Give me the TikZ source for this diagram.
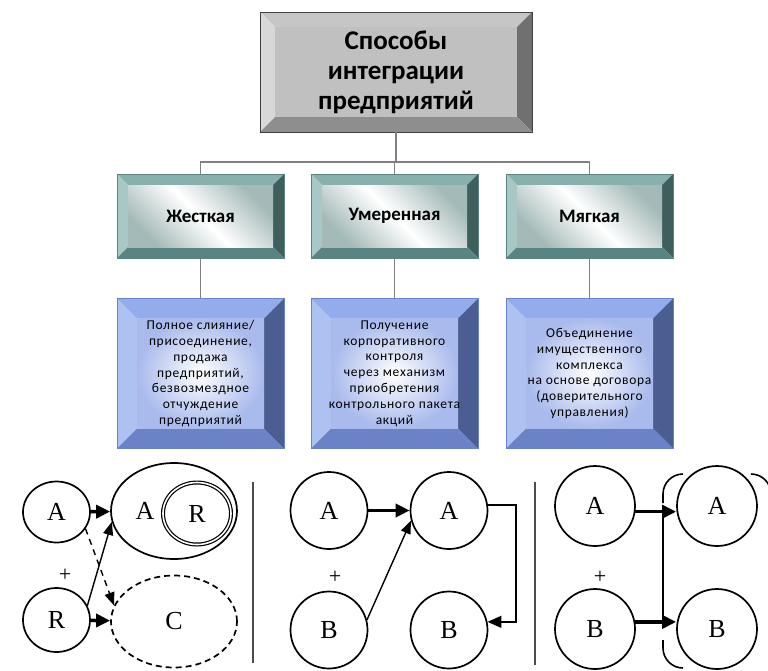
\documentclass[tikz,border=0pt]{standalone}
\usepackage{fontspec}
\setmainfont{Carlito}
\newfontfamily\panelfont{Liberation Serif}
\newfontfamily\spacedfont[LetterSpace=5]{Carlito}
\usetikzlibrary{shapes.geometric,arrows.meta,calc}

\definecolor{tealT}{HTML}{88B0AD}
\definecolor{tealL}{HTML}{A8C8C5}
\definecolor{tealR}{HTML}{3F5F5D}
\definecolor{tealB}{HTML}{5A8481}
\definecolor{tealFace}{HTML}{A4BAB8}
\definecolor{blueT}{HTML}{93ACEB}
\definecolor{blueL}{HTML}{AEC2F2}
\definecolor{blueR}{HTML}{4A5E92}
\definecolor{blueB}{HTML}{6A82C6}
\definecolor{blueFace}{HTML}{A9BAEC}
\definecolor{grayT}{HTML}{C6C6C6}
\definecolor{grayL}{HTML}{D8D8D8}
\definecolor{grayR}{HTML}{707070}
\definecolor{grayB}{HTML}{8E8E8E}
\definecolor{grayFace}{HTML}{C0C0C0}
\definecolor{conn}{HTML}{808080}

\newcommand\bevelpic[6]{%
 \path (path picture bounding box.north west) coordinate (bNW)
       (path picture bounding box.north east) coordinate (bNE)
       (path picture bounding box.south east) coordinate (bSE)
       (path picture bounding box.south west) coordinate (bSW);
 \path ($(bNW)+(#1,-#1)$) coordinate (iNW)
       ($(bNE)+(-#1,-#1)$) coordinate (iNE)
       ($(bSE)+(-#1,#1)$) coordinate (iSE)
       ($(bSW)+(#1,#1)$) coordinate (iSW);
 \fill[#2] (bNW) -- (bNE) -- (iNE) -- (iNW) -- cycle;
 \fill[#3] (bNW) -- (iNW) -- (iSW) -- (bSW) -- cycle;
 \fill[#4] (bNE) -- (bSE) -- (iSE) -- (iNE) -- cycle;
 \fill[#5] (bSW) -- (iSW) -- (iSE) -- (bSE) -- cycle;
 \path[#6] (iNW) rectangle (iSE);
}

\tikzset{
 titlebox/.style={minimum width=272pt, minimum height=120pt, inner sep=0pt,
   draw=black!75, line width=0.7pt, align=center,
   font=\bfseries\fontsize{27}{30}\selectfont,
   path picture={\bevelpic{15pt}{grayT}{grayL}{grayR}{grayB}{fill=grayFace}}},
 tealbox/.style={minimum width=167pt, minimum height=84pt, inner sep=0pt,
   draw=tealB, line width=0.5pt, align=center,
   font=\bfseries\fontsize{19}{22}\selectfont,
   path picture={\bevelpic{11pt}{tealT}{tealL}{tealR}{tealB}{top color=tealFace,bottom color=tealFace,middle color=white,shading angle=-45}}},
 bluebox/.style={minimum width=167pt, minimum height=150pt, inner sep=0pt,
   draw=blueB, line width=0.5pt, align=center,
   font=\spacedfont\fontsize{13.5}{15.8}\selectfont,
   path picture={\bevelpic{20pt}{blueT}{blueL}{blueR}{blueB}{inner color=white,outer color=blueFace}}},
 conline/.style={draw=conn, line width=1.1pt},
 oval/.style={ellipse, draw=black, line width=1.7pt, inner sep=0pt,
   font=\panelfont\fontsize{26}{28}\selectfont},
 circ/.style={circle, draw=black, line width=1.7pt, inner sep=0pt, minimum size=80pt,
   font=\panelfont\fontsize{26}{28}\selectfont},
 lbl/.style={font=\panelfont\fontsize{26}{28}\selectfont, inner sep=0pt},
 plus/.style={font=\panelfont\fontsize{22}{24}\selectfont, inner sep=0pt},
 thickarrow/.style={line width=3.5pt, -{Triangle[length=14pt,width=13pt]}},
 thinarrow/.style={line width=1.4pt, -{Triangle[length=13pt,width=10pt]}},
 sepline/.style={draw=black!70, line width=2pt},
}

\begin{document}
\begin{tikzpicture}[x=1pt,y=-1pt]
\useasboundingbox[fill=white] (0,0) rectangle (768,670);

% top level
\node[titlebox] (title) at (396,72) {Способы\\интеграции\\предприятий};

% second row
\node[tealbox] (hard) at (200.5,216) {Жесткая};
\node[tealbox] (mod)  at (394.5,216) {Умеренная};
\node[tealbox] (soft) at (589.5,216) {Мягкая};

% third row
\node[bluebox] (hardD) at (200.5,373.5) {Полное слияние/\\присоединение,\\продажа\\предприятий,\\безвозмездное\\отчуждение\\предприятий};
\node[bluebox] (modD) at (394.5,373.5) {Получение\\корпоративного\\контроля\\через механизм\\приобретения\\контрольного пакета\\акций};
\node[bluebox] (softD) at (589.5,373.5) {Объединение\\имущественного\\комплекса\\на основе договора\\(доверительного\\управления)};

% connectors
\coordinate (bus) at (396,162);
\draw[conline] (title.south) -- (bus);
\draw[conline] (hard.north) |- (bus);
\draw[conline] (soft.north) |- (bus);
\draw[conline] (mod.north) |- (bus);
\draw[conline] (hard.south) -- (hardD.north);
\draw[conline] (mod.south) -- (modD.north);
\draw[conline] (soft.south) -- (softD.north);

% ---------- left panel ----------
\node[oval, minimum width=67pt, minimum height=61pt] (lA) at (56.5,512) {A};
\node[oval, minimum width=67pt, minimum height=64pt] (lB) at (56.5,620) {R};
\node[plus] (lplus) at (65,575) {+};
\node[oval, minimum width=126pt, minimum height=96pt] (big) at (174,511) {};
\node[lbl] (bigA) at (145,511) {A};
\node[oval, minimum width=68pt, minimum height=62pt, double, line width=1.2pt, double distance=1.6pt] (inR) at (197,513.5) {R};
\node[oval, dashed, dash pattern=on 6pt off 4pt, minimum width=126pt, minimum height=92pt] (lC) at (174,621.5) {C};
\draw[thickarrow] (lA) -- (big);
\draw[thickarrow] (lB) -- (lC);
\draw[thinarrow] (lB.25) -- (big.190);
\draw[thinarrow, dashed, dash pattern=on 6pt off 5pt] (lA.-30) -- (lC.165);
\coordinate (sepLtop) at (253,482);
\coordinate (sepLbot) at (253,663);
\draw[sepline] (sepLtop) -- (sepLbot);

% ---------- middle panel ----------
\node[circ, minimum size=77pt] (mA) at (329,510.5) {A};
\node[circ, minimum size=77pt] (mA2) at (449,510.5) {A};
\node[plus] (mplus) at (335,577) {+};
\node[circ, minimum size=77pt] (mB) at (329,630) {B};
\node[circ, minimum size=77pt] (mB2) at (449,630) {B};
\draw[thickarrow] (mA) -- (mA2);
\draw[thinarrow] (mB.15) -- (mA2.195);
\coordinate (mloop) at (516,505);
\draw[line width=1.6pt, -{Triangle[length=14pt,width=12pt]}] (mA2.8) -- (mA2.8 -| mloop) |- (mB2.12);

\coordinate (sepRtop) at (535,482);
\coordinate (sepRbot) at (535,665);
\draw[sepline] (sepRtop) -- (sepRbot);

% ---------- right panel ----------
\node[circ] (rA) at (595,506) {A};
\node[circ] (rA2) at (717,506) {A};
\node[plus] (rplus) at (600,577) {+};
\node[circ] (rB) at (595,629) {B};
\node[circ] (rB2) at (717,629) {B};
\coordinate (vx) at (663,0);
\draw[thickarrow] (rA.-8) -- (rA.-8 -| rA2.west);
\draw[thickarrow] (rB.10) -- (rB.10 -| rB2.west);
\draw[line width=1.6pt] (rA.-8 -| vx) -- (rB.10 -| vx);
% enclosing brackets
\draw[line width=1.6pt] (683,474) arc[start angle=90, end angle=180, radius=20pt] -- (663,503);
\draw[line width=1.6pt] (751,474) arc[start angle=90, end angle=0, radius=20pt];
\draw[line width=1.6pt] (663,640) -- (663,648) arc[start angle=180, end angle=270, radius=20pt];
\end{tikzpicture}
\end{document}
